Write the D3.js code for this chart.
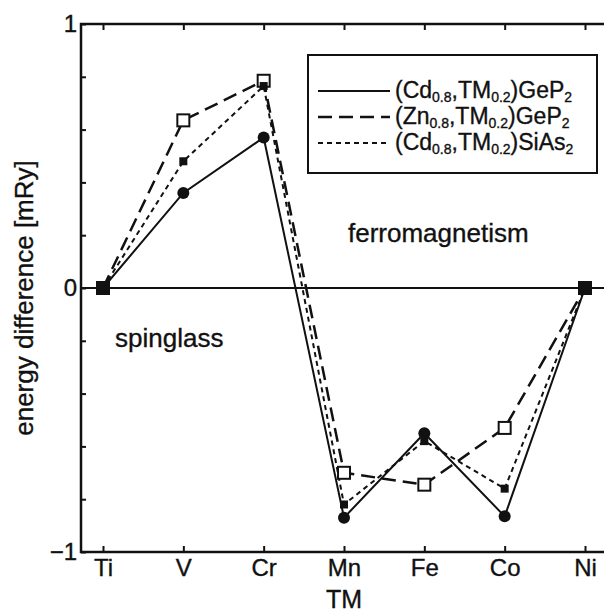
<!DOCTYPE html>
<html lang="en">
<head>
<meta charset="utf-8">
<title>energy difference vs TM</title>
<style>
body{
  margin: 0;
  background: #fff;
}
svg text{
  font-family: "Liberation Sans", Arial, Helvetica, sans-serif;
  fill: #111;
  stroke: #111;
  stroke-width: 0.35px;
}
.axis path{
  display: none;
}
.axis line{
  stroke: #111;
  stroke-width: 2;
}
.axis text{
  font-size: 24px;
}
</style>
</head>
<body>
<div id="chart"></div>
<script src="https://d3js.org/d3.v7.min.js"></script>
<script>
  // categories and series
  const tms = ["Ti", "V", "Cr", "Mn", "Fe", "Co", "Ni"];
  const cdGeP2 = [0, 0.36, 0.57, -0.87, -0.55, -0.865, 0];
  const znGeP2 = [0, 0.635, 0.785, -0.70, -0.745, -0.53, 0];
  const cdSiAs2 = [0, 0.48, 0.765, -0.82, -0.58, -0.76, 0];
  const yTicks = [-1, -0.8, -0.6, -0.4, -0.2, 0, 0.2, 0.4, 0.6, 0.8, 1];
  const yLabels = [-1, 0, 1];

  const width = 604;
  const height = 613;
  const frame = { left: 81, right: 610, top: 24, bottom: 552 };

  const svg = d3.select("#chart")
    .append("svg")
    .attr("width", width)
    .attr("height", height);

  const x = d3.scalePoint()
    .domain(tms)
    .range([103, 585]);

  const y = d3.scaleLinear()
    .domain([-1, 1])
    .range([frame.bottom, frame.top]);

  // axes (ticks point inward)
  svg.append("g")
    .attr("class", "axis")
    .attr("transform", `translate(${frame.left},0)`)
    .call(d3.axisLeft(y)
      .tickValues(yTicks)
      .tickSizeInner(-5)
      .tickSizeOuter(0)
      .tickPadding(4)
      .tickFormat(d => yLabels.includes(d) ? d3.format("d")(d) : ""));

  svg.append("g")
    .attr("class", "axis")
    .attr("transform", `translate(0,${frame.bottom})`)
    .call(d3.axisBottom(x)
      .tickSizeInner(-6)
      .tickSizeOuter(0)
      .tickPadding(7));

  svg.append("g")
    .attr("class", "axis")
    .attr("transform", `translate(0,${frame.top})`)
    .call(d3.axisTop(x)
      .tickSizeInner(-6)
      .tickSizeOuter(0)
      .tickFormat(""));

  // frame: left, top, bottom (no right edge in view)
  svg.append("path")
    .attr("d", `M${frame.right},${frame.top}H${frame.left}V${frame.bottom}H${frame.right}`)
    .attr("fill", "none")
    .attr("stroke", "#111")
    .attr("stroke-width", 2.5);

  // zero line
  svg.append("line")
    .attr("x1", frame.left).attr("x2", frame.right)
    .attr("y1", y(0)).attr("y2", y(0))
    .attr("stroke", "#111")
    .attr("stroke-width", 2);

  const series = [
    { name: "Cd", values: cdGeP2, dash: null, width: 2, marker: "circle" },
    { name: "Zn", values: znGeP2, dash: "14,7", width: 2.5, marker: "open" },
    { name: "Si", values: cdSiAs2, dash: "5,4", width: 2, marker: "small" }
  ];

  const line = d3.line()
    .x((d, i) => x(tms[i]))
    .y(d => y(d));

  series.forEach(s => {
    svg.append("path")
      .attr("d", line(s.values))
      .attr("fill", "none")
      .attr("stroke", "#111")
      .attr("stroke-width", s.width)
      .attr("stroke-dasharray", s.dash);
  });

  // points where all series meet get one big filled square
  const shared = tms.map((t, i) => cdGeP2[i] === znGeP2[i] && znGeP2[i] === cdSiAs2[i]);

  series.forEach(s => {
    const pts = s.values.map((v, i) => ({ t: tms[i], v: v, i: i })).filter(d => !shared[d.i]);
    const g = svg.append("g");
    if (s.marker === "circle") {
      g.selectAll("circle").data(pts).enter().append("circle")
        .attr("cx", d => x(d.t)).attr("cy", d => y(d.v))
        .attr("r", 6).attr("fill", "#111");
    } else if (s.marker === "open") {
      g.selectAll("rect").data(pts).enter().append("rect")
        .attr("x", d => x(d.t) - 6).attr("y", d => y(d.v) - 6)
        .attr("width", 12).attr("height", 12)
        .attr("fill", "#fff").attr("stroke", "#111").attr("stroke-width", 2);
    } else {
      g.selectAll("rect").data(pts).enter().append("rect")
        .attr("x", d => x(d.t) - 4).attr("y", d => y(d.v) - 4)
        .attr("width", 8).attr("height", 8)
        .attr("fill", "#111");
    }
  });

  svg.append("g").selectAll("rect")
    .data(tms.filter((t, i) => shared[i]))
    .enter().append("rect")
    .attr("x", d => x(d) - 7).attr("y", d => y(cdGeP2[tms.indexOf(d)]) - 7)
    .attr("width", 14).attr("height", 14)
    .attr("fill", "#111");

  // region labels
  svg.append("text")
    .attr("x", 348).attr("y", y(0.175))
    .attr("font-size", 26)
    .text("ferromagnetism");

  svg.append("text")
    .attr("x", 115).attr("y", y(-0.225))
    .attr("font-size", 26)
    .text("spinglass");

  // axis titles
  svg.append("text")
    .attr("transform", `translate(33,${(frame.top + frame.bottom) / 2 + 10}) rotate(-90)`)
    .attr("text-anchor", "middle")
    .attr("font-size", 26)
    .text("energy difference [mRy]");

  svg.append("text")
    .attr("x", x("Mn")).attr("y", 608)
    .attr("text-anchor", "middle")
    .attr("font-size", 25)
    .text("TM");

  // legend
  const legend = svg.append("g");
  legend.append("rect")
    .attr("x", 308).attr("y", 55)
    .attr("width", 289).attr("height", 118)
    .attr("fill", "#fff").attr("stroke", "#111").attr("stroke-width", 2);

  const legendRows = [
    { a: "(Cd", b: ",TM", c: ")GeP" },
    { a: "(Zn", b: ",TM", c: ")GeP" },
    { a: "(Cd", b: ",TM", c: ")SiAs" }
  ];

  legendRows.forEach((r, i) => {
    const ly = 91 + i * 26;
    legend.append("line")
      .attr("x1", 318).attr("x2", 390)
      .attr("y1", ly).attr("y2", ly)
      .attr("stroke", "#111")
      .attr("stroke-width", series[i].width)
      .attr("stroke-dasharray", series[i].dash);
    const t = legend.append("text")
      .attr("x", 395).attr("y", ly + 7)
      .attr("font-size", 23);
    t.append("tspan").text(r.a);
    t.append("tspan").attr("dy", 4).attr("font-size", 14).text("0.8");
    t.append("tspan").attr("dy", -4).text(r.b);
    t.append("tspan").attr("dy", 4).attr("font-size", 14).text("0.2");
    t.append("tspan").attr("dy", -4).text(r.c);
    t.append("tspan").attr("dy", 4).attr("font-size", 14).text("2");
  });
</script>
</body>
</html>
